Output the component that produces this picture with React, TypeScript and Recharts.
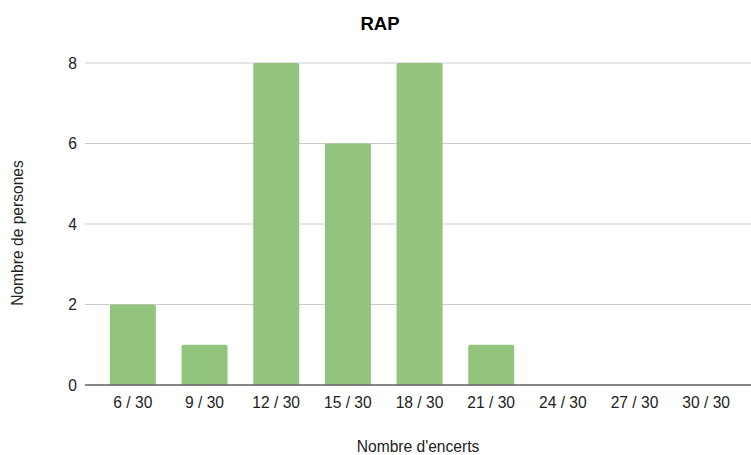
import { BarChart, Bar, XAxis, YAxis, CartesianGrid } from 'recharts'

const categories = ['6 / 30', '9 / 30', '12 / 30', '15 / 30', '18 / 30', '21 / 30', '24 / 30', '27 / 30', '30 / 30']
const persones = [2, 1, 8, 6, 8, 1, 0, 0, 0]
const yTicks = [0, 2, 4, 6, 8]

const data = categories.map((c, i) => ({ name: c, value: persones[i] }))

const font = '"Liberation Sans", Arial, sans-serif'
const fs = 15.6

function YLabel({ viewBox }: any) {
  const x = viewBox.x + 17
  const y = viewBox.y + viewBox.height / 2 + 9
  return (
    <text
      x={x}
      y={y}
      transform={`rotate(-90 ${x} ${y})`}
      textAnchor="middle"
      dominantBaseline="central"
      fill="#222222"
      fontSize={fs}
      fontFamily={font}
    >
      Nombre de persones
    </text>
  )
}

export default function App() {
  return (
    <div style={{ position: 'absolute', left: 0, top: 0, width: 751, height: 455, fontFamily: font, background: '#fff' }}>
      <div
        style={{
          position: 'absolute',
          left: 0,
          width: 760,
          top: 13,
          textAlign: 'center',
          fontSize: 18.5,
          fontWeight: 700,
          color: '#000',
        }}
      >
        RAP
      </div>
      <BarChart
        width={751}
        height={455}
        data={data}
        margin={{ top: 63, right: 0, bottom: 0, left: 0 }}
        barCategoryGap="18%"
      >
        <CartesianGrid vertical={false} stroke="#cccccc" />
        <XAxis
          dataKey="name"
          height={70}
          padding={{ left: 12, right: 9 }}
          tickLine={false}
          tickMargin={6}
          axisLine={{ stroke: '#666666', strokeWidth: 1.5 }}
          tick={{ fill: '#222222', fontSize: fs, fontFamily: font }}
          interval={0}
          label={{ value: "Nombre d'encerts", position: 'insideBottom', offset: 3, fill: '#222222', fontSize: fs, fontFamily: font }}
        />
        <YAxis
          width={85}
          domain={[0, 8]}
          ticks={yTicks}
          axisLine={false}
          tickLine={false}
          tick={{ fill: '#222222', fontSize: fs, fontFamily: font }}
          label={<YLabel />}
        />
        <Bar dataKey="value" fill="#93c47d" radius={[2, 2, 0, 0]} isAnimationActive={false} />
      </BarChart>
    </div>
  )
}
